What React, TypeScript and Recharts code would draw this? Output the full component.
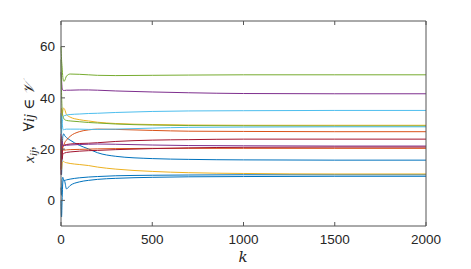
import React from 'react';
import { LineChart, Line, XAxis, YAxis } from 'recharts';

const K = [0, 3, 6, 10, 15, 20, 30, 50, 100, 150, 200, 300, 500, 700, 1000, 1500, 2000];

const blue1 = [22, 10, 18, 25, 26, 25.3, 24.5, 23.5, 21.5, 20.1, 18.6, 17.2, 16.3, 16.0, 15.8, 15.7, 15.7];
const orange1 = [24, 15, 20, 20.8, 21.5, 22.5, 23.5, 25, 26.8, 27.5, 27.8, 27.7, 27.3, 27.0, 26.9, 26.8, 26.8];
const yellow1 = [30, 36, 33, 35, 36, 35.5, 33.5, 32.5, 31.5, 31, 30.5, 30, 29.6, 29.4, 29.3, 29.3, 29.3];
const purple1 = [50, 47, 44, 43, 42.9, 42.9, 43, 43, 43.1, 43.1, 43.0, 42.7, 42.3, 42.0, 41.7, 41.6, 41.6];
const green1 = [60, 55, 52, 48, 46.5, 46.7, 48.5, 49.3, 49.2, 49.0, 48.8, 48.7, 48.8, 48.9, 49.0, 49.0, 49.0];
const lightblue1 = [28, 33, 30, 32, 33, 33.1, 33.3, 33.5, 33.7, 33.9, 34.0, 34.3, 34.7, 34.9, 35.0, 35.1, 35.1];
const darkred1 = [10, 22, 18, 21, 21.5, 21.6, 21.8, 22.0, 22.2, 22.3, 22.5, 23.0, 23.5, 23.7, 23.9, 23.9, 23.9];
const blue2 = [5, 2, 8, 9, 8, 7.8, 8.0, 8.3, 8.8, 9.1, 9.3, 9.6, 9.8, 9.9, 10.0, 10.0, 10.0];
const orange2 = [18, 25, 22, 20, 19.5, 19.6, 19.7, 19.8, 19.9, 20.0, 20.1, 20.2, 20.3, 20.3, 20.3, 20.3, 20.3];
const yellow2 = [16, 12, 14, 15, 15.2, 14.9, 14.7, 14.4, 14.0, 13.6, 13.0, 12.2, 11.3, 10.8, 10.5, 10.3, 10.3];
const purple2 = [26, 20, 23, 21.5, 21.4, 21.4, 21.5, 21.6, 21.8, 21.9, 22.0, 21.9, 21.6, 21.4, 21.3, 21.2, 21.2];
const green2 = [55, 42, 36, 33, 32, 31.5, 31.2, 31.0, 30.7, 30.4, 30.2, 29.8, 29.4, 29.2, 29.1, 29.0, 29.0];
const lightblue2 = [34, 26, 30, 28, 27.5, 27.7, 27.8, 27.8, 27.8, 27.7, 27.7, 27.8, 28.2, 28.5, 28.6, 28.7, 28.7];
const darkred2 = [12, 20, 16, 18, 18.3, 18.5, 18.7, 18.9, 19.2, 19.4, 19.5, 19.8, 20.2, 20.5, 20.7, 20.8, 20.8];
const blue3 = [0, -6.5, 0, 7, 8, 7.5, 4.5, 5.8, 7.2, 7.8, 8.2, 8.6, 9.0, 9.2, 9.3, 9.4, 9.4];

const SERIES = [
  { name: 's1', values: blue1, color: '#0072BD' },
  { name: 's2', values: orange1, color: '#D95319' },
  { name: 's3', values: yellow1, color: '#EDB120' },
  { name: 's4', values: purple1, color: '#7E2F8E' },
  { name: 's5', values: green1, color: '#77AC30' },
  { name: 's6', values: lightblue1, color: '#4DBEEE' },
  { name: 's7', values: darkred1, color: '#A2142F' },
  { name: 's8', values: blue2, color: '#0072BD' },
  { name: 's9', values: orange2, color: '#D95319' },
  { name: 's10', values: yellow2, color: '#EDB120' },
  { name: 's11', values: purple2, color: '#7E2F8E' },
  { name: 's12', values: green2, color: '#77AC30' },
  { name: 's13', values: lightblue2, color: '#4DBEEE' },
  { name: 's14', values: darkred2, color: '#A2142F' },
  { name: 's15', values: blue3, color: '#0072BD' },
];

const X_TICKS = [0, 500, 1000, 1500, 2000];
const Y_TICKS = [0, 20, 40, 60];

const data = K.map((k, i) => {
  const row: Record<string, number> = { k };
  SERIES.forEach((s) => {
    row[s.name] = s.values[i];
  });
  return row;
});

const AXIS = '#555555';
const TXT = '#262626';
const tickFont = { fontFamily: 'Liberation Sans, Arial, sans-serif', fontSize: 13.5, fill: TXT };
const noTick = () => <g />;

export default function App() {
  return (
    <div style={{ position: 'absolute', left: 0, top: 0, width: 471, height: 269, background: '#fff' }}>
      <LineChart width={471} height={269} data={data} margin={{ top: 20, right: 44, bottom: 13, left: 11 }}>
        <XAxis
          dataKey="k"
          type="number"
          domain={[0, 2000]}
          ticks={X_TICKS}
          height={30}
          tickSize={-4}
          tickMargin={12}
          tick={tickFont}
          stroke={AXIS}
          interval={0}
        />
        <XAxis
          xAxisId="top"
          orientation="top"
          dataKey="k"
          type="number"
          domain={[0, 2000]}
          ticks={X_TICKS}
          height={1}
          tickSize={-4}
          tick={noTick}
          stroke={AXIS}
          interval={0}
        />
        <YAxis
          type="number"
          domain={[-10, 70]}
          ticks={Y_TICKS}
          width={50}
          tickSize={-4}
          tickMargin={10}
          tick={tickFont}
          stroke={AXIS}
          interval={0}
        />
        <YAxis
          yAxisId="right"
          orientation="right"
          type="number"
          domain={[-10, 70]}
          ticks={Y_TICKS}
          width={1}
          tickSize={-4}
          tick={noTick}
          stroke={AXIS}
          interval={0}
        />
        {SERIES.map((s) => (
          <Line
            key={s.name}
            dataKey={s.name}
            stroke={s.color}
            strokeWidth={1}
            dot={false}
            type="monotone"
            isAnimationActive={false}
          />
        ))}
        <text
          x={243}
          y={262}
          textAnchor="middle"
          style={{ fontFamily: 'DejaVu Serif, Liberation Serif, serif', fontStyle: 'italic', fontSize: 15, fill: TXT }}
        >
          k
        </text>
        <text
          transform="translate(34,123) rotate(-90)"
          textAnchor="middle"
          style={{ fontFamily: 'Liberation Serif, DejaVu Serif, serif', fontSize: 15, fill: TXT }}
        >
          <tspan fontStyle="italic">x</tspan>
          <tspan fontStyle="italic" fontSize={11} dy={3}>ij</tspan>
          <tspan dy={-3}>,{'\u2003'}∀</tspan>
          <tspan fontStyle="italic">ij</tspan>
          <tspan>{'\u2005'}∈{'\u2005'}</tspan>
          <tspan fontStyle="italic">𝒱</tspan>
        </text>
      </LineChart>
    </div>
  );
}
